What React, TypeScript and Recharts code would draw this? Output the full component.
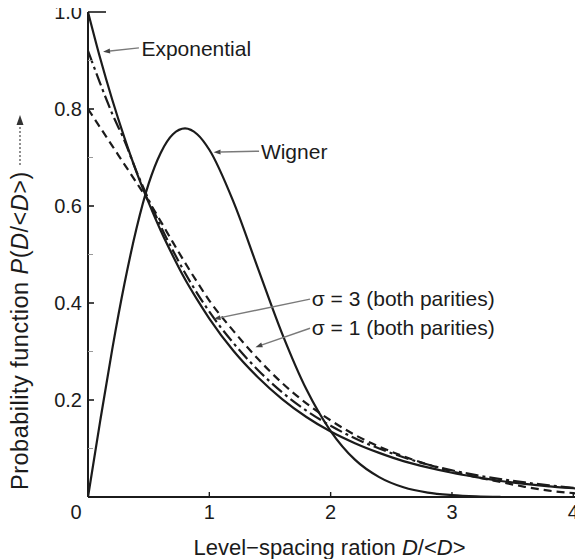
import React from "react";
import {
  LineChart,
  Line,
  XAxis,
  YAxis,
  ReferenceLine,
  ReferenceDot,
} from "recharts";

// level spacing D/<D>
const xs = [0, 0.1, 0.2, 0.3, 0.4, 0.5, 0.6, 0.7, 0.8, 0.9, 1.0, 1.2, 1.4, 1.6, 1.8, 2.0, 2.2, 2.4, 2.6, 2.8, 3.0, 3.2, 3.4, 3.6, 3.8, 4.0, 4.08];
const exponential = [1.0, 0.905, 0.819, 0.741, 0.67, 0.607, 0.549, 0.497, 0.449, 0.407, 0.368, 0.301, 0.247, 0.202, 0.165, 0.135, 0.111, 0.091, 0.074, 0.061, 0.05, 0.041, 0.033, 0.027, 0.022, 0.018, 0.017];
const wigner = [0, 0.156, 0.305, 0.439, 0.554, 0.646, 0.71, 0.748, 0.76, 0.748, 0.716, 0.608, 0.472, 0.337, 0.222, 0.136, 0.077, 0.041, 0.02, 0.009, 0.004, 0.0015, 0.0005, null, null, null, null];
const sigma3 = [0.8, 0.762, 0.724, 0.686, 0.648, 0.61, 0.568, 0.525, 0.483, 0.443, 0.405, 0.342, 0.285, 0.235, 0.193, 0.158, 0.128, 0.104, 0.084, 0.067, 0.053, 0.041, 0.031, 0.021, 0.013, 0.008, 0.006];
const sigma1 = [0.92, 0.853, 0.79, 0.735, 0.671, 0.613, 0.558, 0.508, 0.462, 0.42, 0.382, 0.317, 0.262, 0.216, 0.178, 0.147, 0.121, 0.1, 0.082, 0.067, 0.055, 0.045, 0.037, 0.03, 0.024, 0.019, 0.017];

const xTicks = [0, 1, 2, 3, 4];
const yTicks = [0, 0.1, 0.2, 0.3, 0.4, 0.5, 0.6, 0.7, 0.8, 0.9, 1.0];

const data = xs.map((x, i) => ({
  x,
  exponential: exponential[i],
  wigner: wigner[i],
  sigma3: sigma3[i],
  sigma1: sigma1[i],
}));

const FONT = '"Liberation Sans", Arial, Helvetica, sans-serif';
const INK = "#1b1b1b";
const LEADER = "#7a7a7a";

// leader lines: from label (tail) to curve (tip)
const leaders = [
  { tail: { x: 0.42, y: 0.926 }, tip: { x: 0.124, y: 0.918 } },
  { tail: { x: 1.41, y: 0.713 }, tip: { x: 1.035, y: 0.711 } },
  { tail: { x: 1.83, y: 0.408 }, tip: { x: 1.035, y: 0.367 } },
  { tail: { x: 1.83, y: 0.348 }, tip: { x: 1.38, y: 0.309 } },
];
const notes = [
  { x: 0.44, y: 0.924, text: "Exponential" },
  { x: 1.425, y: 0.713, text: "Wigner" },
  { x: 1.845, y: 0.41, text: "\u03c3 = 3 (both parities)" },
  { x: 1.845, y: 0.35, text: "\u03c3 = 1 (both parities)" },
];

const Arrow = (p: any) => {
  const { x1, y1, x2, y2 } = p;
  const a = Math.atan2(y2 - y1, x2 - x1);
  const L = 7, W = 2.5;
  const bx = x2 - L * Math.cos(a), by = y2 - L * Math.sin(a);
  const px = -Math.sin(a) * W, py = Math.cos(a) * W;
  return (
    <g>
      <line x1={x1} y1={y1} x2={bx} y2={by} stroke={LEADER} strokeWidth={1.4} />
      <polygon points={`${x2},${y2} ${bx + px},${by + py} ${bx - px},${by - py}`} fill="#444" />
    </g>
  );
};

const YTick = (props: any) => {
  const { x, y, payload } = props;
  const v = Math.round(payload.value * 10) / 10;
  const ax = x + 6;
  const major = Math.round(v * 10) % 2 === 0;
  const len = v === 1 ? 18 : major ? 6 : 5;
  return (
    <g>
      {v > 0 && (
        <line x1={ax} y1={y} x2={ax + len} y2={y} stroke={major ? INK : "#999"} strokeWidth={major ? 1.6 : 1} />
      )}
      {major && v > 0 && (
        <text x={x} y={y} dy="0.36em" textAnchor="end" fontSize={20} fontFamily={FONT} fill={INK}>
          {v.toFixed(1)}
        </text>
      )}
    </g>
  );
};

const XTick = (props: any) => {
  const { x, y, payload } = props;
  const v = payload.value;
  const ay = y - 8;
  return (
    <g>
      {v > 0 && <line x1={x} y1={ay} x2={x} y2={ay - 5} stroke={INK} strokeWidth={1.4} />}
      <text x={v === 0 ? x - 12 : x} y={y} dy="0.71em" textAnchor="middle" fontSize={20} fontFamily={FONT} fill={INK}>
        {v}
      </text>
    </g>
  );
};

const XLabel = (props: any) => {
  const { viewBox } = props;
  const cx = viewBox.x + viewBox.width / 2 - 6;
  return (
    <text x={cx} y={555} textAnchor="middle" fontSize={22} fontFamily={FONT} fill={INK}>
      Level{"\u2212"}spacing ration <tspan fontStyle="italic">D</tspan>/&lt;<tspan fontStyle="italic">D</tspan>&gt;
    </text>
  );
};

const YLabel = () => (
  <g fontFamily={FONT} fill={INK}>
    <text transform="translate(28,490) rotate(-90)" fontSize={23.5} letterSpacing={0.5}>
      Probability function <tspan fontStyle="italic">P</tspan>(<tspan fontStyle="italic">D</tspan>/&lt;<tspan fontStyle="italic">D</tspan>&gt;)
    </text>
    <line x1={20} y1={165} x2={20} y2={124} stroke="#555" strokeWidth={1.3} strokeDasharray="2 2" />
    <polygon points="20,115 16.5,125 23.5,125" fill="#333" />
  </g>
);

export default function App() {
  return (
    <div style={{ position: "relative", width: 583, height: 559, margin: "-8px 0 0 -8px" }}>
      <LineChart width={583} height={559} data={data} margin={{ top: 12, right: 0, bottom: 0, left: 8 }}>
        <XAxis
          dataKey="x"
          type="number"
          domain={[0, 4.08]}
          ticks={xTicks}
          height={62}
          tickSize={0}
          tickMargin={8}
          tickLine={false}
          tick={<XTick />}
          axisLine={{ stroke: INK, strokeWidth: 2 }}
          label={<XLabel />}
        />
        <YAxis
          type="number"
          domain={[0, 1]}
          ticks={yTicks}
          width={80}
          tickSize={0}
          tickMargin={6}
          tickLine={false}
          tick={<YTick />}
          axisLine={{ stroke: INK, strokeWidth: 2 }}
          interval={0}
        />
        <Line type="monotone" dataKey="exponential" stroke={INK} strokeWidth={2.2} dot={false} isAnimationActive={false} />
        <Line type="monotone" dataKey="wigner" stroke={INK} strokeWidth={2.2} dot={false} isAnimationActive={false} />
        <Line type="monotone" dataKey="sigma3" stroke={INK} strokeWidth={2.2} strokeDasharray="8 5" dot={false} isAnimationActive={false} />
        <Line type="monotone" dataKey="sigma1" stroke={INK} strokeWidth={2.2} strokeDasharray="13 4 3 4" dot={false} isAnimationActive={false} />
        {leaders.map((l, i) => (
          <ReferenceLine key={i} segment={[l.tail, l.tip]} shape={<Arrow />} ifOverflow="visible" />
        ))}
        {notes.map((n) => (
          <ReferenceDot
            key={n.text}
            x={n.x}
            y={n.y}
            r={0}
            ifOverflow="visible"
            shape={(p: any) => (
              <text x={p.cx} y={p.cy} dy="0.36em" fontSize={21} fontFamily={FONT} fill={INK}>
                {n.text}
              </text>
            )}
          />
        ))}
        <YLabel />
      </LineChart>
    </div>
  );
}
